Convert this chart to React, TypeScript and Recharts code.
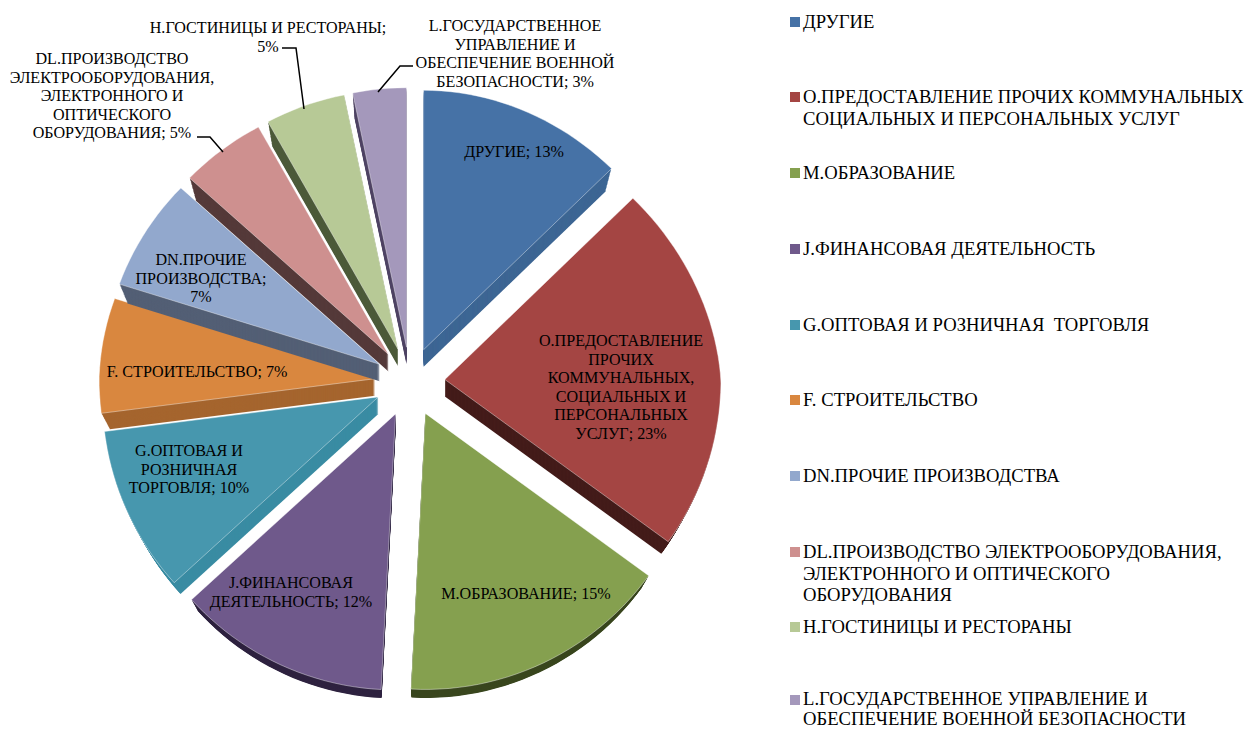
import { PieChart, Pie, Legend } from "recharts";

const categories = [
  "ДРУГИЕ",
  "О.ПРЕДОСТАВЛЕНИЕ ПРОЧИХ КОММУНАЛЬНЫХ, СОЦИАЛЬНЫХ И ПЕРСОНАЛЬНЫХ УСЛУГ",
  "М.ОБРАЗОВАНИЕ",
  "J.ФИНАНСОВАЯ ДЕЯТЕЛЬНОСТЬ",
  "G.ОПТОВАЯ И РОЗНИЧНАЯ ТОРГОВЛЯ",
  "F. СТРОИТЕЛЬСТВО",
  "DN.ПРОЧИЕ ПРОИЗВОДСТВА",
  "DL.ПРОИЗВОДСТВО ЭЛЕКТРООБОРУДОВАНИЯ, ЭЛЕКТРОННОГО И ОПТИЧЕСКОГО ОБОРУДОВАНИЯ",
  "H.ГОСТИНИЦЫ И РЕСТОРАНЫ",
  "L.ГОСУДАРСТВЕННОЕ УПРАВЛЕНИЕ И ОБЕСПЕЧЕНИЕ ВОЕННОЙ БЕЗОПАСНОСТИ",
];
const values = [12.7, 22.3, 15.49, 12.49, 10.02, 7, 6.9, 5.1, 4.8, 3.2];

const faceColors = ["#4672a6", "#a44543", "#85a04f", "#6f598b", "#4797ae", "#d9873f", "#92a8cd", "#ce908f", "#b7c996", "#a498bb"];
const wallColors = ["#3d6694", "#441c1a", "#3a471f", "#2f2340", "#3a8ca3", "#a5652e", "#535f75", "#553a3a", "#4c5a39", "#4f4464"];

const legendLines = [
  ["ДРУГИЕ"],
  ["О.ПРЕДОСТАВЛЕНИЕ ПРОЧИХ КОММУНАЛЬНЫХ,", "СОЦИАЛЬНЫХ И ПЕРСОНАЛЬНЫХ УСЛУГ"],
  ["М.ОБРАЗОВАНИЕ"],
  ["J.ФИНАНСОВАЯ ДЕЯТЕЛЬНОСТЬ"],
  ["G.ОПТОВАЯ И РОЗНИЧНАЯ  ТОРГОВЛЯ"],
  ["F. СТРОИТЕЛЬСТВО"],
  ["DN.ПРОЧИЕ ПРОИЗВОДСТВА"],
  ["DL.ПРОИЗВОДСТВО ЭЛЕКТРООБОРУДОВАНИЯ,", "ЭЛЕКТРОННОГО И ОПТИЧЕСКОГО", "ОБОРУДОВАНИЯ"],
  ["Н.ГОСТИНИЦЫ И РЕСТОРАНЫ"],
  ["L.ГОСУДАРСТВЕННОЕ УПРАВЛЕНИЕ И", "ОБЕСПЕЧЕНИЕ ВОЕННОЙ БЕЗОПАСНОСТИ"],
];
// last entry sits a touch higher so its second line stays inside the page
const legendTops = [22, 97, 173, 249, 325, 400, 476, 552, 627, 700];

const labelLines = [
  ["ДРУГИЕ; 13%"],
  ["О.ПРЕДОСТАВЛЕНИЕ", "ПРОЧИХ", "КОММУНАЛЬНЫХ,", "СОЦИАЛЬНЫХ И", "ПЕРСОНАЛЬНЫХ", "УСЛУГ; 23%"],
  ["М.ОБРАЗОВАНИЕ; 15%"],
  ["J.ФИНАНСОВАЯ", "ДЕЯТЕЛЬНОСТЬ; 12%"],
  ["G.ОПТОВАЯ И", "РОЗНИЧНАЯ", "ТОРГОВЛЯ; 10%"],
  ["F. СТРОИТЕЛЬСТВО; 7%"],
  ["DN.ПРОЧИЕ", "ПРОИЗВОДСТВА;", "7%"],
  ["DL.ПРОИЗВОДСТВО", "ЭЛЕКТРООБОРУДОВАНИЯ,", "ЭЛЕКТРОННОГО И", "ОПТИЧЕСКОГО", "ОБОРУДОВАНИЯ; 5%"],
  ["Н.ГОСТИНИЦЫ И РЕСТОРАНЫ;", "5%"],
  ["L.ГОСУДАРСТВЕННОЕ", "УПРАВЛЕНИЕ И", "ОБЕСПЕЧЕНИЕ ВОЕННОЙ", "БЕЗОПАСНОСТИ; 3%"],
];
// centre x and first line centre y of each data label
const labelAnchors = [
  [514, 152], [621, 341], [526, 594], [291, 583], [189, 451],
  [197, 372], [201, 260], [112, 59], [268, 28], [515, 26],
];
const leaderLines: Record<number, string> = {
  7: "M197 137H210L223 152",
  8: "M282 48H296L304 109",
  9: "M378 92L400 66H413",
};

const tableData = categories.map((name, i) => ({
  name,
  value: values[i],
  fill: faceColors[i],
  wall: wallColors[i],
}));

const EXPLODE = 35;
const DEPTH = 17;
const RAD = Math.PI / 180;

// tilt also drags the lower left edges round a little
function tiltAngle(a: number) {
  const clock = ((90 - a) % 360 + 360) % 360;
  if (clock <= 126 || clock >= 263) return a;
  return a - 1.3 * Math.sin(((clock - 126) / 137) * Math.PI);
}

// the pie is tilted, so the far half comes out a bit smaller than the near half
function facePath(cx: number, cy: number, r: number, start: number, end: number, mid: number) {
  const ax = cx + EXPLODE * Math.cos(mid * RAD);
  const ay = cy - EXPLODE * Math.sin(mid * RAD);
  let d = `M${ax.toFixed(1)} ${ay.toFixed(1)}`;
  const steps = Math.max(2, Math.ceil(Math.abs(end - start) / 2));
  for (let i = 0; i <= steps; i++) {
    const a = tiltAngle(start + ((end - start) * i) / steps) * RAD;
    let x = r * Math.cos(a);
    let y = -r * Math.sin(a);
    if (y < 0) {
      x = x * (1 + ((x < 0 ? 0.025 : 0.07) * y) / r);
      y = y * 0.94;
    }
    d += `L${(ax + x).toFixed(1)} ${(ay + y).toFixed(1)}`;
  }
  return d + "Z";
}

function Slice(props: any) {
  const { cx, cy, outerRadius, startAngle, endAngle, midAngle, fill, payload } = props;
  const d = facePath(cx, cy, outerRadius, startAngle, endAngle, midAngle);
  const layers = [];
  // lower layers are further from the viewer, so they shrink a little
  for (let i = DEPTH; i >= 1; i--) {
    const lower = facePath(cx, cy, outerRadius - i * 0.5, startAngle, endAngle, midAngle);
    layers.push(<path key={i} d={lower} transform={`translate(0,${i})`} fill={payload.wall} />);
  }
  return (
    <g>
      {layers}
      <path d={d} fill={fill} stroke="#ffffff" strokeOpacity={0.5} strokeWidth={0.8} />
    </g>
  );
}

function renderLabel(props: any) {
  const { index } = props;
  const [x, y] = labelAnchors[index];
  return (
    <g key={index}>
      {leaderLines[index] && <path d={leaderLines[index]} fill="none" stroke="#000" strokeWidth={1.5} />}
      <text x={x} y={y} textAnchor="middle" fontFamily="Liberation Serif" fontSize={16.1} fill="#000">
        {labelLines[index].map((line, i) => (
          <tspan key={i} x={x} y={y + i * 18.5} dy={5}>
            {line}
          </tspan>
        ))}
      </text>
    </g>
  );
}

function renderLegend(props: any) {
  const { payload } = props;
  return (
    <div style={{ position: "relative", width: 1252, height: 731, fontFamily: "Liberation Serif", fontSize: 18.65, lineHeight: "21.7px", color: "#000" }}>
      {(payload || []).map((entry: any, i: number) => (
        <div
          key={i}
          style={{
            position: "absolute",
            left: 803,
            top: legendTops[i] - 11,
            whiteSpace: "pre",
            lineHeight: i === 9 ? "20px" : undefined,
          }}
        >
          <span style={{ position: "absolute", left: -13, top: 6, width: 10, height: 10, background: entry.color }} />
          {legendLines[i].map((line, j) => (
            <div key={j}>{line}</div>
          ))}
        </div>
      ))}
    </div>
  );
}

export default function App() {
  return (
    <div style={{ marginTop: -8, marginLeft: -8, width: 1252, height: 731 }}>
      <PieChart width={1252} height={731} margin={{ top: 0, right: 0, bottom: 0, left: 0 }}>
        <Pie
          data={tableData}
          dataKey="value"
          nameKey="name"
          cx={410}
          cy={382}
          outerRadius={276}
          startAngle={90}
          endAngle={-270}
          stroke="none"
          shape={Slice}
          label={renderLabel}
          labelLine={false}
          isAnimationActive={false}
        />
        <Legend
          layout="vertical"
          align="right"
          verticalAlign="top"
          itemSorter={null}
          content={renderLegend}
          wrapperStyle={{ left: 0, top: 0, width: 1252, height: 731, pointerEvents: "none" }}
        />
      </PieChart>
    </div>
  );
}
